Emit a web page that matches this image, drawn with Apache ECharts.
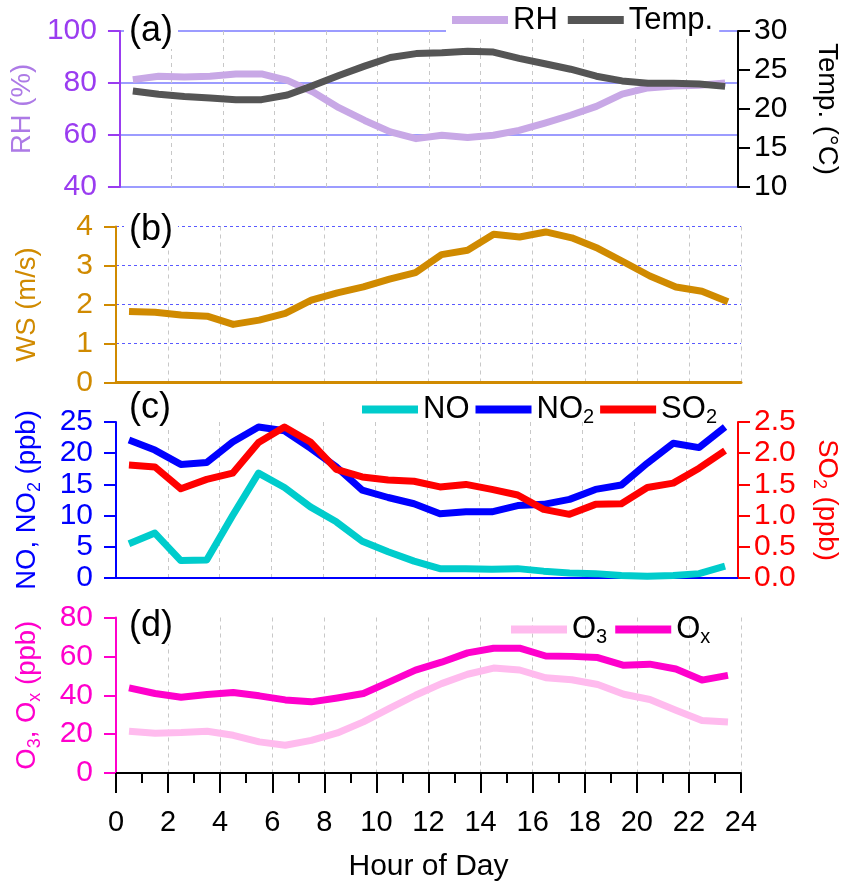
<!DOCTYPE html>
<html>
<head>
<meta charset="utf-8">
<script src="https://cdn.jsdelivr.net/npm/echarts@6/dist/echarts.min.js"></script>
<style>
  html, body { margin: 0; padding: 0; background: #fff; }
  #chart { width: 849px; height: 889px; }
</style>
</head>
<body>
<div id="chart"></div>
<script>
// Diurnal cycles, hourly means plotted at the half hour
const hours = [0.5, 1.5, 2.5, 3.5, 4.5, 5.5, 6.5, 7.5, 8.5, 9.5, 10.5, 11.5,
               12.5, 13.5, 14.5, 15.5, 16.5, 17.5, 18.5, 19.5, 20.5, 21.5, 22.5, 23.5];
const xTicks = [0, 2, 4, 6, 8, 10, 12, 14, 16, 18, 20, 22, 24];

// (a) relative humidity (%) and temperature (°C)
const rh = [81.3, 82.6, 82.3, 82.6, 83.5, 83.5, 81.0, 76.5, 70.5, 65.6, 61.2, 58.6,
            59.9, 59.0, 59.9, 61.8, 64.6, 67.6, 71.0, 75.7, 78.1, 78.8, 79.1, 80.0];
const temp = [22.3, 21.9, 21.6, 21.4, 21.2, 21.2, 21.8, 23.0, 24.3, 25.5, 26.6, 27.1,
              27.2, 27.4, 27.3, 26.5, 25.8, 25.1, 24.2, 23.6, 23.3, 23.3, 23.2, 22.9];

// (b) wind speed (m/s)
const ws = [1.82, 1.80, 1.73, 1.70, 1.49, 1.60, 1.77, 2.11, 2.30, 2.45, 2.65, 2.82,
            3.28, 3.39, 3.80, 3.73, 3.86, 3.71, 3.44, 3.09, 2.73, 2.45, 2.34, 2.07];

// (c) NO, NO2 (ppb) and SO2 (ppb)
const no = [5.5, 7.2, 2.8, 2.9, 10.0, 16.8, 14.5, 11.4, 9.0, 5.9, 4.2, 2.7,
            1.5, 1.5, 1.4, 1.5, 1.1, 0.8, 0.7, 0.4, 0.3, 0.4, 0.7, 1.9];
const no2 = [22.1, 20.5, 18.2, 18.5, 21.8, 24.2, 23.6, 20.8, 17.8, 14.1, 12.9, 11.9,
             10.3, 10.6, 10.6, 11.6, 11.8, 12.6, 14.2, 14.9, 18.4, 21.6, 20.9, 24.2];
const so2 = [1.81, 1.78, 1.43, 1.58, 1.68, 2.17, 2.42, 2.18, 1.74, 1.62, 1.57, 1.55,
             1.46, 1.50, 1.42, 1.33, 1.10, 1.02, 1.18, 1.19, 1.45, 1.52, 1.76, 2.04];

// (d) O3 and Ox (ppb)
const o3 = [21.5, 20.4, 20.8, 21.5, 19.4, 16.0, 14.3, 16.8, 20.6, 26.3, 33.2, 40.0,
            46.0, 50.8, 54.0, 53.0, 49.0, 48.0, 45.5, 40.5, 37.8, 32.3, 27.0, 26.2];
const ox = [43.8, 40.9, 39.0, 40.4, 41.4, 39.7, 37.6, 36.6, 38.6, 40.9, 46.9, 52.9,
            57.0, 61.8, 64.2, 64.2, 60.2, 60.0, 59.4, 55.4, 56.0, 53.5, 47.8, 50.2];

const FONT = '"Liberation Sans", Arial, Helvetica, sans-serif';
const TICK_FS = 30;    // axis tick labels
const LEG_FS = 31;     // legend text
const NAME_FS = 27.5;  // axis titles

const C = {
  rhAxis: '#9a3cf0', rhName: '#ad7ae6', rhLine: '#c8a8e6', grid: '#9c9cff',
  temp: '#555555', ws: '#d08a00', no: '#00cccc', no2: '#0000ff', so2: '#ff0000',
  o3: '#ffbbee', ox: '#ff00cc'
};

// rich-text styles giving a lowered subscript
function rich(color, fs, lh) {
  return {
    n: { fontSize: fs, lineHeight: lh, fontFamily: FONT, color: color, verticalAlign: 'middle' },
    s: { fontSize: Math.round(fs * 0.66), fontFamily: FONT, color: color, verticalAlign: 'bottom' }
  };
}
const pairs = (ys) => hours.map((h, i) => [h, ys[i]]);

function xAxisFor(gridIndex, opts) {
  return Object.assign({
    type: 'value', gridIndex, min: 0, max: 24, interval: 2,
    axisLabel: { show: false },
    axisTick: { show: false },
    axisLine: { show: false },
    splitLine: { show: true, lineStyle: { color: '#c8c8c8', type: [4, 4], width: 1 } }
  }, opts);
}

function yAxisFor(gridIndex, color, nameColor, name, min, max, interval, opts) {
  const right = opts && opts.position === 'right';
  return Object.assign({
    type: 'value', gridIndex, min, max, interval,
    name, nameLocation: 'middle', nameGap: 72, nameRotate: right ? -90 : 90,
    nameTextStyle: { rich: rich(nameColor, NAME_FS, 34) },
    axisLine: { show: true, lineStyle: { color, width: 2 } },
    axisTick: { show: true, inside: false, length: 12, lineStyle: { color, width: 2 } },
    axisLabel: { color, fontSize: TICK_FS, fontFamily: FONT, margin: right ? 16 : 23 },
    splitLine: { show: false }
  }, opts);
}

const option = {
  animation: false,
  backgroundColor: '#ffffff',
  textStyle: { fontFamily: FONT },
  grid: [
    { left: 116, right: 108, top: 31, height: 156 },
    { left: 116, right: 108, top: 226.5, height: 156 },
    { left: 116, right: 108, top: 422, height: 156 },
    { left: 116, right: 108, top: 617.5, height: 155.5 }
  ],
  title: ['(a)', '(b)', '(c)', '(d)'].map((t, i) => ({
    text: t, left: 124, top: [13, 212, 390, 608][i],
    backgroundColor: '#ffffff', padding: [0, 5],
    textStyle: { fontSize: 36, fontWeight: 'normal', color: '#000', fontFamily: FONT }
  })),
  legend: [
    {
      data: ['RH', 'Temp.'], left: 446, top: 3, padding: [0, 6],
      backgroundColor: '#ffffff', icon: 'rect', itemWidth: 56, itemHeight: 8, itemGap: 10,
      textStyle: { fontSize: LEG_FS, lineHeight: 34, color: '#000', fontFamily: FONT }
    },
    {
      data: ['NO', 'NO2', 'SO2'], left: 358, top: 394, padding: [0, 4],
      icon: 'rect', itemWidth: 56, itemHeight: 8, itemGap: 6,
      formatter: (n) => ({ NO: '{n|NO}', NO2: '{n|NO}{s|2}', SO2: '{n|SO}{s|2}' })[n],
      textStyle: { rich: rich('#000', LEG_FS, 36) }
    },
    {
      data: ['O3', 'Ox'], left: 507, top: 614, padding: [0, 4],
      icon: 'rect', itemWidth: 56, itemHeight: 8, itemGap: 8,
      formatter: (n) => ({ O3: '{n|O}{s|3}', Ox: '{n|O}{s|x}' })[n],
      textStyle: { rich: rich('#000', LEG_FS, 36) }
    }
  ],
  xAxis: [
    xAxisFor(0, {}),
    xAxisFor(1, { axisLine: { show: true, lineStyle: { color: C.ws, width: 3 } } }),
    xAxisFor(2, { axisLine: { show: true, lineStyle: { color: C.no2, width: 2 } } }),
    xAxisFor(3, {
      axisLine: { show: true, lineStyle: { color: '#000', width: 2 } },
      axisTick: { show: true, inside: false, length: 20, lineStyle: { color: '#000', width: 2 } },
      minorTick: { show: true, splitNumber: 2, length: 10, lineStyle: { color: '#000', width: 2 } },
      axisLabel: {
        show: true, color: '#000', fontSize: 29, fontFamily: FONT, margin: 35,
        formatter: (v) => (xTicks.indexOf(v) >= 0 ? String(v) : '')
      },
      name: 'Hour of Day', nameLocation: 'middle', nameGap: 79,
      nameTextStyle: { fontSize: 30, color: '#000', fontFamily: FONT }
    })
  ],
  yAxis: [
    yAxisFor(0, C.rhAxis, C.rhName, '{n|RH (%)}', 40, 100, 20, {
      splitLine: { show: true, lineStyle: { color: C.grid, width: 2, type: 'solid' } }
    }),
    yAxisFor(0, '#000', '#000', '{n|Temp. (°C)}', 10, 30, 5, { position: 'right' }),
    yAxisFor(1, C.ws, C.ws, '{n|WS (m/s)}', 0, 4, 1, {
      splitLine: { show: true, showMinLine: false,
                   lineStyle: { color: '#5a5aff', width: 1, type: [3, 3] } }
    }),
    yAxisFor(2, C.no2, C.no2, '{n|NO, NO}{s|2}{n| (ppb)}', 0, 25, 5, {}),
    yAxisFor(2, C.so2, C.so2, '{n|SO}{s|2}{n| (ppb)}', 0, 2.5, 0.5, {
      position: 'right',
      axisLabel: { color: C.so2, fontSize: TICK_FS, fontFamily: FONT, margin: 16,
                   formatter: (v) => v.toFixed(1) }
    }),
    yAxisFor(3, C.ox, C.ox, '{n|O}{s|3}{n|, O}{s|x}{n| (ppb)}', 0, 80, 20, {})
  ],
  series: [
    { name: 'RH', data: pairs(rh), color: C.rhLine, xAxisIndex: 0, yAxisIndex: 0 },
    { name: 'Temp.', data: pairs(temp), color: C.temp, xAxisIndex: 0, yAxisIndex: 1 },
    { name: 'WS', data: pairs(ws), color: C.ws, xAxisIndex: 1, yAxisIndex: 2 },
    { name: 'NO', data: pairs(no), color: C.no, xAxisIndex: 2, yAxisIndex: 3 },
    { name: 'NO2', data: pairs(no2), color: C.no2, xAxisIndex: 2, yAxisIndex: 3 },
    { name: 'SO2', data: pairs(so2), color: C.so2, xAxisIndex: 2, yAxisIndex: 4 },
    { name: 'O3', data: pairs(o3), color: C.o3, xAxisIndex: 3, yAxisIndex: 5 },
    { name: 'Ox', data: pairs(ox), color: C.ox, xAxisIndex: 3, yAxisIndex: 5 }
  ].map((s) => Object.assign({
    type: 'line', showSymbol: false, symbol: 'none', clip: false,
    lineStyle: { width: 7, join: 'round' }
  }, s))
};

const chart = echarts.init(document.getElementById('chart'), null, { renderer: 'canvas' });
chart.setOption(option);
</script>
</body>
</html>
